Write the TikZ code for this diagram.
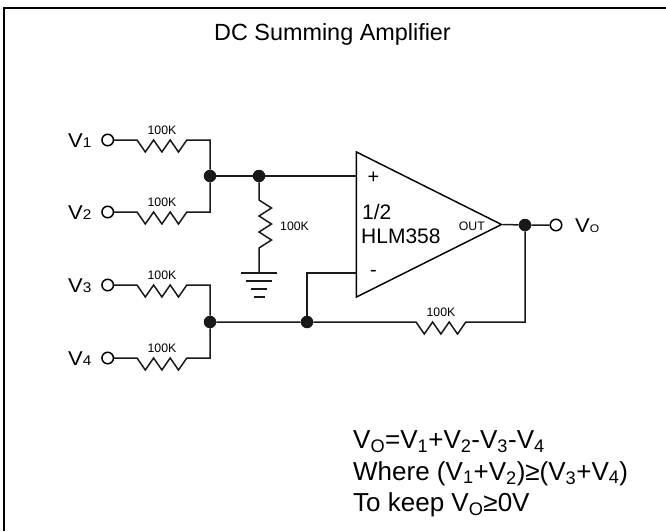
\documentclass[tikz,border=0pt]{standalone}
\usepackage{fontspec}
\setmainfont{Liberation Sans}
\usepackage{tikz}
\usetikzlibrary{positioning,shapes.geometric,calc}

\begin{document}
\begin{tikzpicture}[
  x=1pt, y=-1pt,
  wire/.style={line width=1.5pt, black!90},
  term/.style={draw, line width=1.5pt, circle, fill=white, inner sep=0pt, minimum size=11.5pt},
  dot/.style={circle, fill=black!90, inner sep=0pt, minimum size=12.5pt},
  opamp/.style={draw, line width=1.5pt, isosceles triangle, isosceles triangle apex angle=53.13, inner sep=0pt, minimum height=145pt, minimum width=145pt, anchor=lower side},
  reshor/.style={insert path={-- ++(8.3,12) -- ++(8.3,-12) -- ++(8.3,12) -- ++(8.3,-12) -- ++(8.3,12) -- ++(8.3,-12)}},
  resver/.style={insert path={-- ++(12.5,8) -- ++(-12.5,8) -- ++(12.5,8) -- ++(-12.5,8) -- ++(12.5,8) -- ++(-12.5,8)}},
  lab/.style={font=\fontsize{12.3}{14}\selectfont, inner sep=0pt},
  vlab/.style={font=\fontsize{20}{24}\selectfont, inner sep=0pt, anchor=base west, xscale=1.1},
  txt/.style={font=\fontsize{26}{27}\selectfont, inner sep=0pt, anchor=base west}
]
\useasboundingbox (0,0) rectangle (666,531);
\draw[line width=2pt] (4,531) -- (4,8) -- (666,8);

\node[font=\fontsize{23.4}{28}\selectfont, inner sep=0pt, anchor=base] (title) at (332.5,40) {DC Summing Amplifier};

% inputs
\node[dot] (jp) at (210,176) {};
\node[dot] (jm) at (210,322) {};
\foreach \i/\yy/\jj in {1/140/jp,2/212/jp,3/285/jm,4/358/jm} {
  \node[term] (v\i) at (107.7,\yy) {};
  \node[vlab] at (68,\yy+7) {V{\fontsize{14}{14}\selectfont\i}};
  \coordinate (r\i) at (137,\yy);
  \draw[wire] (v\i) -- (r\i) [reshor] -| (\jj);
  \node[lab, above=5pt of r\i, xshift=25pt] (l\i) {100K};
}

% op amp
\node[opamp] (amp) at (355.7,224.5) {};
\node[font=\fontsize{20}{20}\selectfont, inner sep=0pt] (plus) at (373.5,178) {+};
\node[font=\fontsize{20}{20}\selectfont, inner sep=0pt] (minus) at (373.5,273.5) {-};
\node[font=\fontsize{21}{24}\selectfont, inner sep=0pt, anchor=base west] (half) at (362,219) {1/2};
\node[font=\fontsize{21}{24}\selectfont, inner sep=0pt, anchor=base west] (part) at (361,243) {HLM358};
\node[lab, anchor=base east] (out) at (485,230) {OUT};

% divider to ground
\node[dot] (jd) at (259,176) {};
\coordinate (rd) at (259,200);
\coordinate (gnd) at (259,273);
\draw[wire] (jp) -- (jd) -- (jd -| amp.lower side);
\draw[wire] (jd) -- (rd) [resver] -- (gnd);
\node[lab, anchor=west] (ld) at (280,226) {100K};
\draw[wire] (241,273) -- (277,273);
\draw[wire] (246,281) -- (272,281);
\draw[wire] (251,289) -- (267,289);
\draw[wire] (254,297) -- (265,297);

% feedback
\node[dot] (jn) at (307,322) {};
\node[dot] (jo) at (525,225) {};
\node[term] (vo) at (556,225) {};
\node[vlab] (vol) at (575,232.5) {V{\fontsize{11}{11}\selectfont O}};
\coordinate (inm) at (355.7,273);
\coordinate (rf) at (416,322);
\draw[wire] (jn) |- (inm);
\draw[wire] (jm) -- (jn) -- (rf) [reshor] -| (jo);
\draw[wire] (amp.apex) -- (jo) -- (vo);
\node[lab, above=5pt of rf, xshift=25pt] (lf) {100K};

% formula
\node[txt] (f1) at (353,448.5) {V\textsubscript{O}=V\textsubscript{1}+V\textsubscript{2}-V\textsubscript{3}-V\textsubscript{4}};
\node[txt] (f2) at (353,480) {Where (V\textsubscript{1}+V\textsubscript{2})≥(V\textsubscript{3}+V\textsubscript{4})};
\node[txt] (f3) at (353,511.5) {To keep V\textsubscript{O}≥0V};
\end{tikzpicture}
\end{document}
